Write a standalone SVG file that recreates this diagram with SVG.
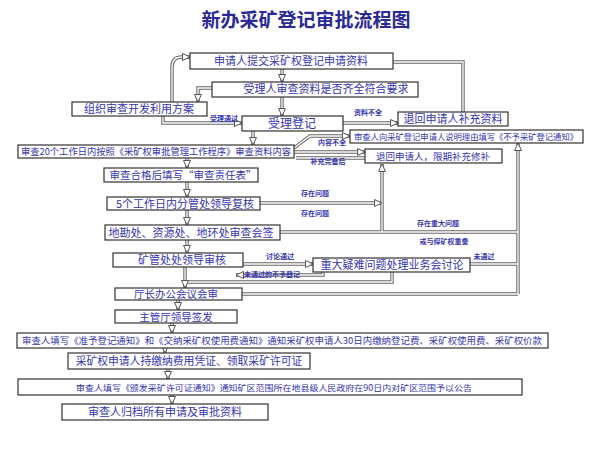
<svg xmlns="http://www.w3.org/2000/svg" xmlns:xlink="http://www.w3.org/1999/xlink" width="591" height="452" viewBox="0 0 591 452">
<style>
.bx{fill:#fff;stroke:#333;stroke-width:1.2}
.t{font-family:"Noto Sans CJK SC","Noto Sans",sans-serif;fill:#3434b0;text-anchor:middle}
.lb{font-family:"Noto Sans CJK SC","Noto Sans",sans-serif;fill:#3434b0;font-size:7px;text-anchor:middle;font-weight:bold}
.title{font-family:"Noto Sans CJK SC",sans-serif;fill:#2a2a96;font-size:19px;font-weight:bold;text-anchor:middle}
</style>
<defs>
<marker id="ah" markerUnits="userSpaceOnUse" markerWidth="10" markerHeight="8" refX="8" refY="4" orient="auto" viewBox="0 0 10 8"><path d="M0.5,0.5 L8,4 L0.5,7.5 Z" fill="#fff" stroke="#555" stroke-width="1"/></marker>
<path id="c1" d="M282,69 V82"/>
<path id="c2" d="M282,97 V116"/>
<path id="c3" d="M227,88 H198 V102"/>
<path id="c4" d="M172,102 V67 Q172,57 182,57 H190"/>
<path id="c5" d="M163,116 V123 H242"/>
<path id="c6" d="M343,123 H398"/>
<path id="c7" d="M463,112 V62 H393"/>
<path id="c8" d="M253,131 V145"/>
<path id="c9" d="M294,148 L310,136 H350"/>
<path id="c10" d="M294,152 H365"/>
<path id="c11" d="M365,158 H296"/>
<path id="c12" d="M187,158 V168"/>
<path id="c13" d="M187,182 V197"/>
<path id="c14" d="M187,210 V225"/>
<path id="c15" d="M187,240 V253"/>
<path id="c16" d="M260,203 H382"/>
<path id="c17" d="M280,232 H518"/>
<path id="c18" d="M382,232 V164"/>
<path id="c19" d="M518,294 V143"/>
<path id="c20" d="M243,264 H313"/>
<path id="c21" d="M470,264 H518"/>
<path id="c22" d="M392,272 V282 H187"/>
<path id="c23" d="M323,272 V275 H236"/>
<path id="c24" d="M185,267 V288"/>
<path id="c25" d="M242,294 H518"/>
<path id="c26" d="M178,300 V310"/>
<path id="c27" d="M172,323 V333"/>
<path id="c28" d="M165,348 V353"/>
<path id="c29" d="M168,369 V379"/>
<path id="c30" d="M172,395 V404"/>
</defs>
<rect width="591" height="452" fill="#fff"/>
<text class="title" x="306" y="27">新办采矿登记审批流程图</text>

<g id="connectors" fill="none">
<g stroke="#666" stroke-width="3.4">
<use xlink:href="#c1"/><use xlink:href="#c2"/><use xlink:href="#c3"/><use xlink:href="#c4"/><use xlink:href="#c5"/><use xlink:href="#c6"/><use xlink:href="#c7"/><use xlink:href="#c8"/><use xlink:href="#c9"/><use xlink:href="#c10"/><use xlink:href="#c11"/><use xlink:href="#c12"/><use xlink:href="#c13"/><use xlink:href="#c14"/><use xlink:href="#c15"/><use xlink:href="#c16"/><use xlink:href="#c17"/><use xlink:href="#c18"/><use xlink:href="#c19"/><use xlink:href="#c20"/><use xlink:href="#c21"/><use xlink:href="#c22"/><use xlink:href="#c23"/><use xlink:href="#c24"/><use xlink:href="#c25"/><use xlink:href="#c26"/><use xlink:href="#c27"/><use xlink:href="#c28"/><use xlink:href="#c29"/><use xlink:href="#c30"/>
</g>
<g stroke="#fff" stroke-width="1.3">
<use xlink:href="#c1"/><use xlink:href="#c2"/><use xlink:href="#c3"/><use xlink:href="#c4"/><use xlink:href="#c5"/><use xlink:href="#c6"/><use xlink:href="#c7"/><use xlink:href="#c8"/><use xlink:href="#c9"/><use xlink:href="#c10"/><use xlink:href="#c11"/><use xlink:href="#c12"/><use xlink:href="#c13"/><use xlink:href="#c14"/><use xlink:href="#c15"/><use xlink:href="#c16"/><use xlink:href="#c17"/><use xlink:href="#c18"/><use xlink:href="#c19"/><use xlink:href="#c20"/><use xlink:href="#c21"/><use xlink:href="#c22"/><use xlink:href="#c23"/><use xlink:href="#c24"/><use xlink:href="#c25"/><use xlink:href="#c26"/><use xlink:href="#c27"/><use xlink:href="#c28"/><use xlink:href="#c29"/><use xlink:href="#c30"/>
</g>
<g stroke="none" marker-end="url(#ah)">
<use xlink:href="#c1"/><use xlink:href="#c2"/><use xlink:href="#c3"/><use xlink:href="#c4"/><use xlink:href="#c5"/><use xlink:href="#c6"/><use xlink:href="#c8"/><use xlink:href="#c9"/><use xlink:href="#c10"/><use xlink:href="#c12"/><use xlink:href="#c13"/><use xlink:href="#c14"/><use xlink:href="#c15"/><use xlink:href="#c16"/><use xlink:href="#c18"/><use xlink:href="#c19"/><use xlink:href="#c20"/><use xlink:href="#c23"/><use xlink:href="#c24"/><use xlink:href="#c26"/><use xlink:href="#c27"/><use xlink:href="#c28"/><use xlink:href="#c29"/><use xlink:href="#c30"/>
</g>
<text class="lb" x="224" y="121">受理通过</text>
<text class="lb" x="368" y="115">资料不全</text>
<text class="lb" x="332" y="145">内容不全</text>
<text class="lb" x="328" y="164">补充完备后</text>
<text class="lb" x="315" y="196">存在问题</text>
<text class="lb" x="315" y="216">存在问题</text>
<text class="lb" x="438" y="226">存在重大问题</text>
<text class="lb" x="444" y="244">或与探矿权重叠</text>
<text class="lb" x="280" y="259">讨论通过</text>
<text class="lb" x="272" y="277">未通过的不予登记</text>
<text class="lb" x="484" y="259">未通过</text>
</g>

<g id="n1"><rect class="bx" x="190" y="53" width="203" height="16"/><text class="t" x="291" y="65" font-size="11">申请人提交采矿权登记申请资料</text></g>
<g id="n2"><rect class="bx" x="212" y="82" width="206" height="15"/><text class="t" x="326" y="93" font-size="11">受理人审查资料是否齐全符合要求</text></g>
<g id="n3"><rect class="bx" x="72" y="102" width="135" height="14"/><text class="t" x="139" y="113" font-size="11">组织审查开发利用方案</text></g>
<g id="n4"><rect class="bx" x="242" y="116" width="101" height="15"/><text class="t" x="292" y="127.5" font-size="12">受理登记</text></g>
<g id="n5"><rect class="bx" x="398" y="112" width="110" height="14"/><text class="t" x="453" y="123" font-size="11">退回申请人补充资料</text></g>
<g id="n6"><rect class="bx" x="350" y="130" width="233" height="13"/><text class="t" x="466" y="140" font-size="8.5" textLength="224" lengthAdjust="spacingAndGlyphs">审查人向采矿登记申请人说明理由填写《不予采矿登记通知》</text></g>
<g id="n7"><rect class="bx" x="365" y="149" width="137" height="14"/><text class="t" x="433" y="160" font-size="9.5">退回申请人，限期补充修补</text></g>
<g id="n8"><rect class="bx" x="18" y="145" width="276" height="13"/><text class="t" x="156" y="155" font-size="9.5" textLength="270" lengthAdjust="spacingAndGlyphs">审查20个工作日内按照《采矿权审批管理工作程序》审查资料内容</text></g>
<g id="n9"><rect class="bx" x="104" y="168" width="154" height="14"/><text class="t" x="183" y="179" font-size="10.5">审查合格后填写“审查责任表”</text></g>
<g id="n10"><rect class="bx" x="107" y="197" width="153" height="13"/><text class="t" x="185" y="207.5" font-size="11">5个工作日内分管处领导复核</text></g>
<g id="n11"><rect class="bx" x="105" y="225" width="175" height="15"/><text class="t" x="191" y="236.5" font-size="11">地勘处、资源处、地环处审查会签</text></g>
<g id="n12"><rect class="bx" x="113" y="253" width="130" height="14"/><text class="t" x="182" y="264" font-size="11">矿管处处领导审核</text></g>
<g id="n13"><rect class="bx" x="313" y="258" width="157" height="14"/><text class="t" x="392" y="269" font-size="11">重大疑难问题处理业务会讨论</text></g>
<g id="n14"><rect class="bx" x="115" y="288" width="127" height="12"/><text class="t" x="176" y="298" font-size="10.5">厅长办公会议会审</text></g>
<g id="n15"><rect class="bx" x="115" y="310" width="122" height="13"/><text class="t" x="176" y="320.5" font-size="10.5">主管厅领导签发</text></g>
<g id="n16"><rect class="bx" x="17" y="333" width="531" height="15"/><text class="t" x="282" y="344" font-size="9" textLength="520" lengthAdjust="spacingAndGlyphs">审查人填写《准予登记通知》和《交纳采矿权使用费通知》通知采矿权申请人30日内缴纳登记费、采矿权使用费、采矿权价款</text></g>
<g id="n17"><rect class="bx" x="68" y="353" width="242" height="16"/><text class="t" x="189" y="365" font-size="10.8">采矿权申请人持缴纳费用凭证、领取采矿许可证</text></g>
<g id="n18"><rect class="bx" x="18" y="379" width="504" height="16"/><text class="t" x="274" y="390.5" font-size="8.5" textLength="396" lengthAdjust="spacingAndGlyphs">审查人填写《颁发采矿许可证通知》通知矿区范围所在地县级人民政府在90日内对矿区范围予以公告</text></g>
<g id="n19"><rect class="bx" x="62" y="404" width="206" height="16"/><text class="t" x="165" y="416" font-size="11">审查人归档所有申请及审批资料</text></g>
</svg>
